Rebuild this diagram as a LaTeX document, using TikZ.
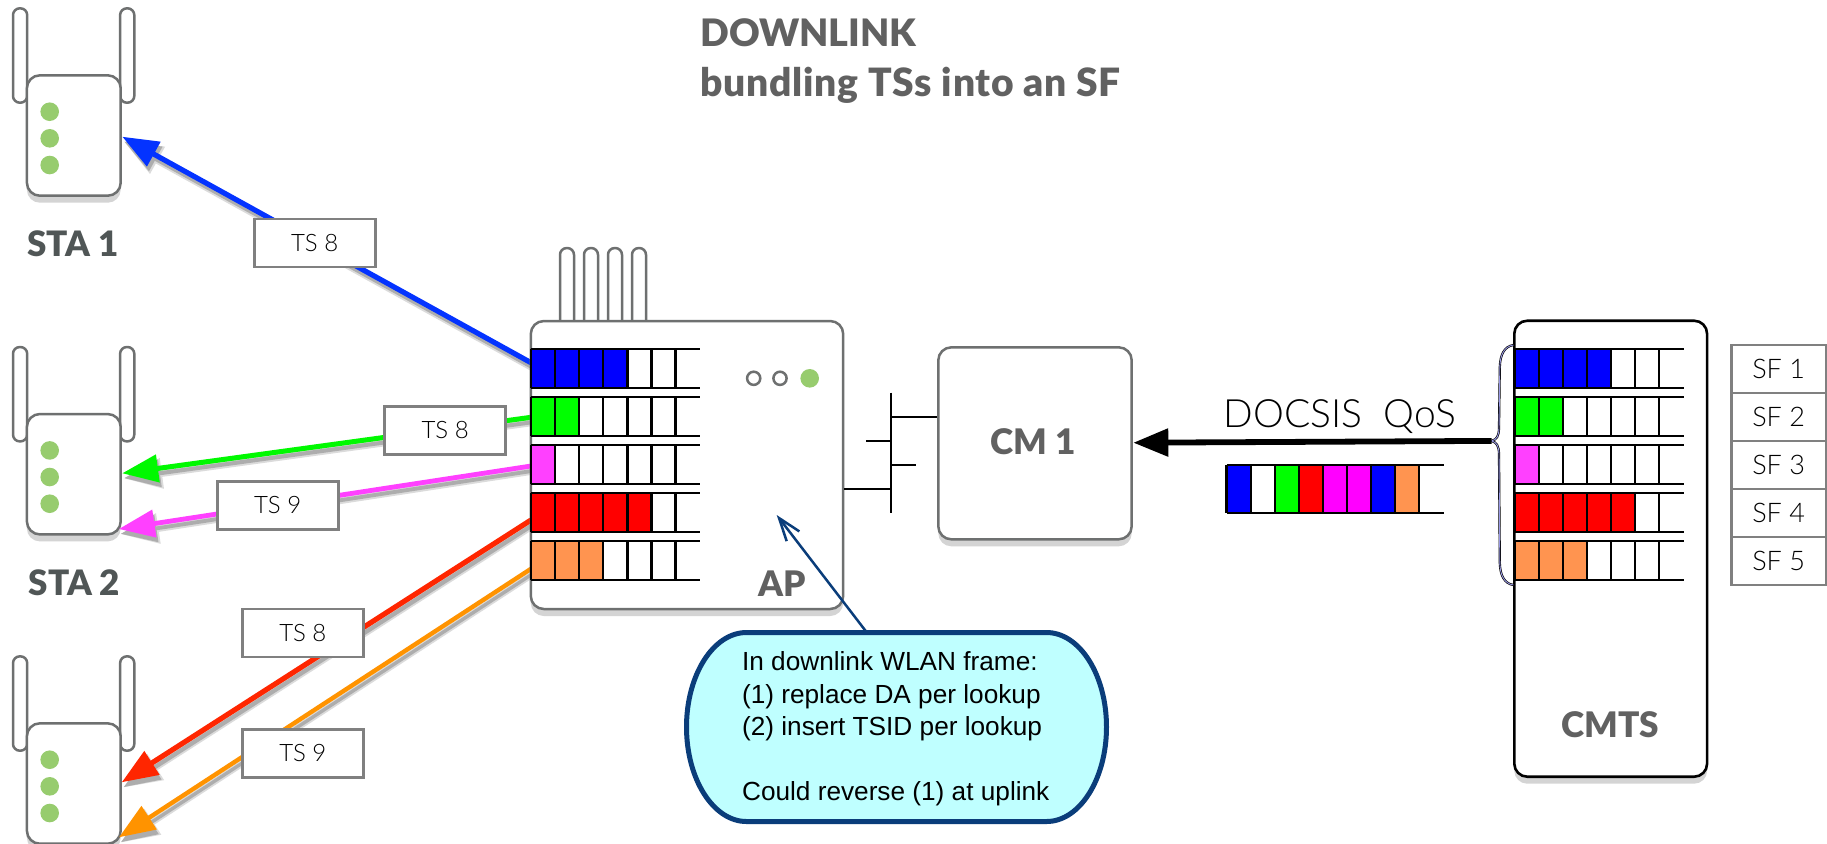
\documentclass[tikz,border=0pt]{standalone}
\usepackage{fontspec}
\usetikzlibrary{arrows.meta,shadows}
\setmainfont{Lato}
\newfontfamily\lightf{Lato Light}
\newfontfamily\heavyf{Lato Black}
\newfontfamily\heavysp[LetterSpace=1.9]{Lato Black}
\newfontfamily\notef{Liberation Sans}
\definecolor{edge}{HTML}{6E7070}
\definecolor{ledg}{HTML}{97CC6E}
\definecolor{tsedge}{HTML}{808080}
\definecolor{qblue}{HTML}{0000FF}
\definecolor{qgreen}{HTML}{00FF00}
\definecolor{qmag}{HTML}{FF40FF}
\definecolor{qmagb}{HTML}{FF00FF}
\definecolor{qred}{HTML}{FF0000}
\definecolor{qorange}{HTML}{FF9450}
\definecolor{abl}{HTML}{0433FF}
\definecolor{agr}{HTML}{00F900}
\definecolor{ama}{HTML}{FF40FF}
\definecolor{are}{HTML}{FF2600}
\definecolor{aor}{HTML}{FF9300}
\definecolor{navy}{HTML}{0A3D7A}
\definecolor{notefill}{HTML}{BFFFFF}
\definecolor{boxshade}{HTML}{D4D4D4}
\definecolor{headtxt}{HTML}{616161}
\definecolor{statxt}{HTML}{505656}
\tikzset{
  devbox/.style={draw=edge,fill=white,line width=1.25pt,rounded corners=6.5pt,inner sep=0pt,
    general shadow={shadow yshift=-3.5pt,fill=boxshade}},
  antenna/.style={draw=edge,fill=white,line width=1.25pt,rounded corners=3.4pt,inner sep=0pt},
  tsbox/.style={draw=tsedge,fill=white,line width=1.3pt,inner sep=0pt,minimum width=60.5pt,minimum height=24pt,
    font=\lightf\fontsize{12}{14}\selectfont,text=black},
  sfbox/.style={draw=tsedge,fill=white,line width=1.3pt,inner sep=0pt,minimum width=47.4pt,minimum height=24pt,
    font=\lightf\fontsize{13.5}{15}\selectfont,text=black},
  headlabel/.style={inner sep=0pt,text=headtxt,font=\heavyf\fontsize{17.6}{20}\selectfont},
  stalabel/.style={inner sep=0pt,text=statxt,font=\heavyf\fontsize{17.5}{20}\selectfont},
  titlelabel/.style={inner sep=0pt,text=headtxt,font=\heavyf\fontsize{18.9}{22}\selectfont},
  subtitlelabel/.style={inner sep=0pt,text=headtxt,font=\heavysp\fontsize{19.5}{22}\selectfont},
  qline/.style={draw=black,line width=1.15pt},
  led/.style={circle,fill=ledg,draw=none,inner sep=0pt,minimum size=9.3pt},
  ledoff/.style={circle,fill=white,draw=edge,line width=1.25pt,inner sep=0pt,minimum size=6.6pt},
  ether/.style={draw=black,line width=1pt},
}
% queue: x0, step, ytop, height, xend, colour list
\newcommand\queuerow[6]{%
  \foreach \c [count=\i from 0] in {#6}{%
    \fill[\c] ({#1+\i*#2},#3) rectangle ({#1+(\i+1)*#2},{#3+#4});
    \draw[qline] ({#1+\i*#2},#3) -- ({#1+\i*#2},{#3+#4});
    \xdef\qlast{\i}
  }
  \draw[qline] ({#1+(\qlast+1)*#2},#3) -- ({#1+(\qlast+1)*#2},{#3+#4});
  \draw[qline] (#1,#3) -- (#5,#3);
  \draw[qline] (#1,{#3+#4}) -- (#5,{#3+#4});
}
\newcommand\fivequeues[3]{%
  \queuerow{#1}{#2}{349.3}{38.4}{#3}{qblue,qblue,qblue,qblue,white,white}
  \queuerow{#1}{#2}{397.3}{38.4}{#3}{qgreen,qgreen,white,white,white,white}
  \queuerow{#1}{#2}{445.3}{38.4}{#3}{qmag,white,white,white,white,white}
  \queuerow{#1}{#2}{493.3}{38.4}{#3}{qred,qred,qred,qred,qred,white}
  \queuerow{#1}{#2}{541.3}{38.4}{#3}{qorange,qorange,qorange,white,white,white}
}
% station: name, offset
\newcommand\station[2]{%
  \node[antenna,minimum width=7.1pt,minimum height=47.2pt] (#1antL) at (20.1,{55.5+#2}) {};
  \node[antenna,minimum width=7.1pt,minimum height=47.2pt] (#1antR) at (127.2,{55.5+#2}) {};
  \node[devbox,minimum width=46.9pt,minimum height=60.2pt] (#1) at (73.8,{135.5+#2}) {};
  \node[led] (#1ledA) at (49.7,{111.7+#2}) {};
  \node[led] (#1ledB) at (49.7,{138.3+#2}) {};
  \node[led] (#1ledC) at (49.7,{165+#2}) {};
}
% connector: colour, width, from, to, head length, head width
\newcommand\tslink[6]{%
  \draw[draw=black!14,fill=black!14,line width=#2+1pt,-{Triangle[length=#5+1pt,width=#6+1pt]},
     transform canvas={shift={(1pt,-2.6pt)}}] (#3) -- (#4);
  \draw[draw=black!32,fill=black!32,line width=#2-.5pt,-{Triangle[length=#5,width=#6]},
     transform canvas={shift={(1pt,-2.4pt)}}] (#3) -- (#4);
  \draw[draw=#1,line width=#2,-{Triangle[length=#5,width=#6,fill=#1]}] (#3) -- (#4);
}
\begin{document}
\begin{tikzpicture}[x=0.5pt,y=-0.5pt]
\useasboundingbox (0,0) rectangle (1827,843);
\clip (0,0) rectangle (1827,843);
\fill[white] (0,0) rectangle (1827,843);

% named ends of connectors
\coordinate (blueS) at (531,362.7);
\coordinate (blueT) at (122.3,136.7);
\coordinate (greenS) at (531,417.3);
\coordinate (greenT) at (122.2,473.3);
\coordinate (magS) at (531,466);
\coordinate (magT) at (118.8,529);
\coordinate (redS) at (531,520);
\coordinate (redT) at (121.7,782.3);
\coordinate (orS) at (533,567.5);
\coordinate (orT) at (119,837.3);
\coordinate (braceTip) at (1491.5,440.9);
\coordinate (cmIn) at (1133.3,442.7);
\coordinate (noteS) at (865.7,631);
\coordinate (noteT) at (776.7,515);

% stations
\station{staA}{0}
\station{staB}{338.7}
\station{staC}{648}

% coloured links
\tslink{abl}{2.6pt}{blueS}{blueT}{18pt}{13.5pt}
\tslink{agr}{2.5pt}{greenS}{greenT}{18pt}{13.5pt}
\tslink{ama}{2.4pt}{magS}{magT}{18pt}{13.5pt}
\tslink{are}{2.6pt}{redS}{redT}{18pt}{13.5pt}
\tslink{aor}{2.2pt}{orS}{orT}{18pt}{13.5pt}

% AP antennas and box
\foreach \ax [count=\n] in {567,591,615,639}{
  \node[antenna,minimum width=7pt,minimum height=42pt] (apAnt\n) at (\ax,290) {};
}
\node[devbox,minimum width=156.2pt,minimum height=144pt] (ap) at (687,465) {};
\fivequeues{531}{24.1}{700}
\node[ledoff] (apLedA) at (753.7,378.3) {};
\node[ledoff] (apLedB) at (780,378.3) {};
\node[led] (apLedC) at (809.7,378.3) {};
\node[headlabel,anchor=base] (apLabel) at (782,596.7) {AP};

% Labels on the links
\node[tsbox] (tsA) at (314.7,243) {TS 8};
\node[tsbox] (tsB) at (445.2,430.2) {TS 8};
\node[tsbox] (tsC) at (277.7,505.2) {TS 9};
\node[tsbox] (tsD) at (302.8,632.8) {TS 8};
\node[tsbox] (tsE) at (302.8,753.2) {TS 9};

% CM
\node[devbox,minimum width=96.7pt,minimum height=96pt] (cm) at (1035,443.3) {};
\node[headlabel,anchor=base] (cmLabel) at (1033.3,454) {CM 1};

% Ethernet bus
\coordinate (busT) at (891,392.7);
\coordinate (busB) at (891,513);
\coordinate (busA) at (866,440.7);
\coordinate (busC) at (915.7,465);
\draw[ether] (busT) -- (busB);
\draw[ether] (busT |- 0,416.7) -- (cm.west |- 0,416.7);
\draw[ether] (busA) -- (busT |- busA);
\draw[ether] (busT |- busC) -- (busC);
\draw[ether] (ap.east |- 0,488.7) -- (busT |- 0,488.7);

% CMTS
\node[devbox,draw=black,line width=1.3pt,minimum width=96.4pt,minimum height=228pt] (cmts) at (1610.7,548.7) {};
\fivequeues{1514.6}{24.08}{1684}
\node[headlabel,anchor=base] (cmtsLabel) at (1610.5,737.3) {CMTS};

% SF boxes
\node[sfbox] (sfA) at (1778.6,369) {SF 1};
\node[sfbox] (sfB) at (1778.6,417) {SF 2};
\node[sfbox] (sfC) at (1778.6,465) {SF 3};
\node[sfbox] (sfD) at (1778.6,513) {SF 4};
\node[sfbox] (sfE) at (1778.6,561) {SF 5};

% brace
\coordinate (braceTop) at (1513.4,345);
\coordinate (braceBot) at (1513.4,585);
\def\bracepath{(braceTop) .. controls (1504,346.5) and (1500.2,355) .. (1499.8,367) -- (1499,428)
  .. controls (1498.8,436) and (1497,439.5) .. (braceTip) .. controls (1497,442.5) and (1498.8,446) .. (1499,454)
  -- (1499.8,563) .. controls (1500.2,575) and (1504,583.5) .. (braceBot)}
\draw[black,line width=1.1pt] \bracepath;
\draw[black!25!blue!40!white,line width=.45pt] \bracepath;

% main arrow and text
\draw[black,line width=2.9pt,-{Triangle[length=17.5pt,width=13.5pt]}] (braceTip) -- (cmIn);
\node[inner sep=0pt,font=\lightf\fontsize{19.5}{22}\selectfont] (docsis) at (1340,417) {DOCSIS\ \ QoS};

% aggregate queue
\queuerow{1226.6}{24.08}{464.7}{48}{1443.7}{qblue,white,qgreen,qred,qmagb,qmagb,qblue,qorange}

% title
\node[titlelabel,anchor=base west] (titleA) at (700,46) {DOWNLINK};
\node[subtitlelabel,anchor=base west] (titleB) at (700,96) {bundling TSs into an SF};

% station labels
\node[stalabel,anchor=base] (staAlabel) at (73,256.7) {STA 1};
\node[stalabel,anchor=base] (staBlabel) at (74.5,595.3) {STA 2};

% callout
\draw[navy,fill=notefill,line width=2.5pt]
  (746.5,632.5) -- (1046.5,632.5)
  .. controls (1079.6,632.5) and (1106.5,674.8) .. (1106.5,727)
  .. controls (1106.5,779.2) and (1079.6,821.5) .. (1046.5,821.5)
  -- (746.5,821.5)
  .. controls (713.4,821.5) and (686.5,779.2) .. (686.5,727)
  .. controls (686.5,674.8) and (713.4,632.5) .. (746.5,632.5) -- cycle;
\node[inner sep=0pt,anchor=west,align=left,text=black,font=\notef\fontsize{13.1}{16.25}\selectfont] (note) at (741.7,729)
  {In downlink WLAN frame:\\(1) replace DA per lookup\\(2) insert TSID per lookup\\\mbox{}\\Could reverse (1) at uplink};
\draw[navy,line width=1.25pt,-{Straight Barb[length=11.5pt,width=8pt]}] (noteS) -- (noteT);
\end{tikzpicture}
\end{document}
